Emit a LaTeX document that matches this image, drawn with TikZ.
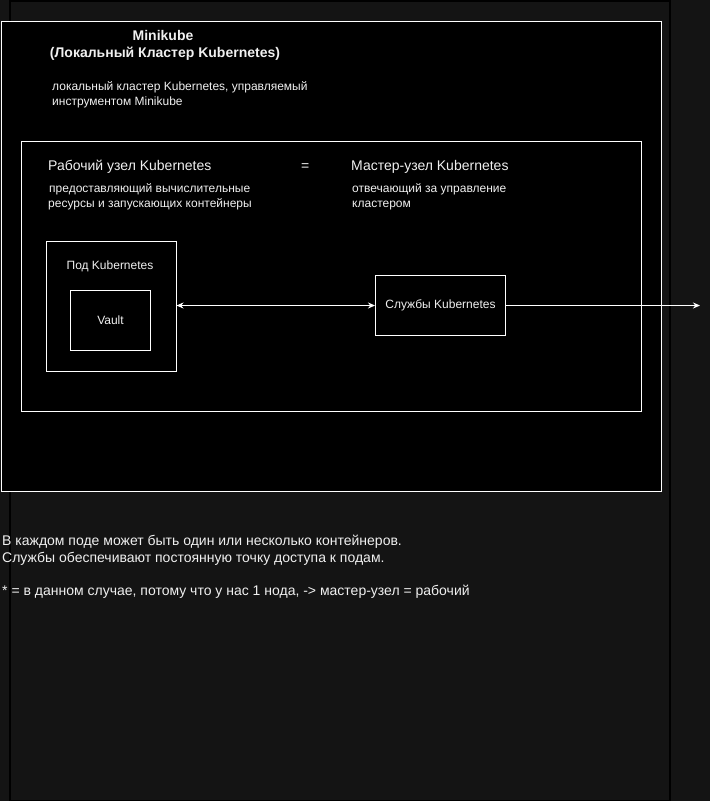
\documentclass[tikz,border=0pt]{standalone}
\usepackage{fontspec}
\setmainfont{Liberation Sans}
\usetikzlibrary{arrows.meta}
\definecolor{bgc}{HTML}{141414}
\definecolor{txt}{HTML}{F0F0F0}
\tikzset{
  box/.style={draw=white, fill=black, line width=1pt},
  lbl/.style={text=txt, inner sep=0pt, anchor=base west, font=\fontsize{12}{14}\selectfont},
  big/.style={lbl, font=\fontsize{14}{17}\selectfont},
  ttl/.style={text=txt, inner sep=0pt, anchor=base, font=\fontsize{14}{17}\selectfont\bfseries},
  conn/.style={draw=white, line width=1pt},
  tip/.style={-{Stealth[length=7pt,width=6pt]}},
}
\begin{document}
\begin{tikzpicture}[x=1pt,y=-1pt]
\useasboundingbox (0,0) rectangle (710,801);
\fill[bgc] (0,0) rectangle (710,801);
\draw[black, line width=1.5pt] (10,0.75) -- (670,0.75);
\draw[black, line width=1.5pt] (10,0) -- (10,801);
\draw[black, line width=1.5pt] (670,0) -- (670,801);
\draw[black, line width=1.5pt] (10,800.25) -- (670,800.25);
% outer box
\node[box, minimum width=660pt, minimum height=470pt, anchor=north west, inner sep=0pt] (mk) at (0.5,20.5) {};
\node[ttl] (t1) at (163,40) {Minikube};
\node[ttl] (t2) at (165,57) {(Локальный Кластер Kubernetes)};
\node[lbl] (d1) at (52,90) {локальный кластер Kubernetes, управляемый};
\node[lbl] (d2) at (52,105) {инструментом Minikube};
% inner box
\node[box, minimum width=620pt, minimum height=270pt, anchor=north west, inner sep=0pt] (nd) at (20.5,140.5) {};
\node[big] (w1) at (48,170) {Рабочий узел Kubernetes};
\node[big] (eq) at (301,170) {=};
\node[big] (m1) at (351,170) {Мастер-узел Kubernetes};
\node[lbl] (w2) at (49,192) {предоставляющий вычислительные};
\node[lbl] (w3) at (48,207) {ресурсы и запускающих контейнеры};
\node[lbl] (m2) at (352,192) {отвечающий за управление};
\node[lbl] (m3) at (352,207) {кластером};
% pod
\node[box, minimum width=130pt, minimum height=130pt, anchor=north west, inner sep=0pt] (pod) at (45.5,240.5) {};
\node[lbl, anchor=base] (podl) at (110,269) {Под Kubernetes};
\node[box, minimum width=80pt, minimum height=60pt, text=txt, font=\fontsize{12}{14}\selectfont, inner sep=0pt] (vault) at (110.5,320.5) {Vault};
% services
\node[box, minimum width=130pt, minimum height=60pt, text=txt, font=\fontsize{12}{14}\selectfont, inner sep=0pt] (svc) at (440.5,305.5) {Службы Kubernetes};
\coordinate (out) at (700,305.5);
\draw[conn, {Stealth[length=7pt,width=6pt]}-{Stealth[length=7pt,width=6pt]}] (pod.east |- svc.west) -- (svc.west);
\draw[conn, tip] (svc.east) -- (out);
% notes
\node[big] (n1) at (2,545) {В каждом поде может быть один или несколько контейнеров.};
\node[big] (n2) at (2,562) {Службы обеспечивают постоянную точку доступа к подам.};
\node[big] (n3) at (2,595) {* = в данном случае, потому что у нас 1 нода, -> мастер-узел = рабочий};
\end{tikzpicture}
\end{document}
